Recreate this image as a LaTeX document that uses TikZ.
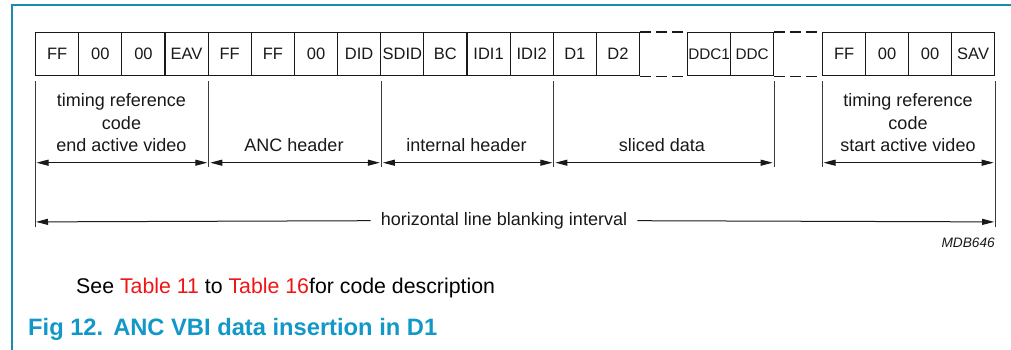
\documentclass[tikz,border=0pt]{standalone}
\usepackage{fontspec}
\setmainfont{Liberation Sans}
\usetikzlibrary{arrows.meta,calc}
\definecolor{framecol}{RGB}{25,140,175}
\definecolor{capcol}{RGB}{18,152,200}
\definecolor{ink}{RGB}{25,25,25}
\definecolor{reflink}{RGB}{240,20,20}
\begin{document}
\begin{tikzpicture}[x=1pt,y=-1pt,
  cell/.style={draw=ink, line width=1.2pt, minimum width=43.14pt, minimum height=43pt,
    inner sep=0pt, anchor=north west, font=\fontsize{16.5}{18}\selectfont, text=ink,
    text height=11.8pt, text depth=0pt},
  dashln/.style={draw=ink, line width=1.2pt, dash pattern=on 11pt off 5pt},
  ext/.style={draw=ink!85, line width=0.9pt},
  dim/.style={draw=ink, line width=1pt, {Triangle[length=12pt,width=6pt]}-{Triangle[length=12pt,width=6pt]}, shorten <=1.5pt, shorten >=1.5pt},
  dimone/.style={draw=ink, line width=1pt, -{Triangle[length=12pt,width=6pt]}, shorten >=1pt},
  lbl/.style={font=\fontsize{18}{22}\selectfont, text=ink, inner sep=0pt, anchor=base},
  frame/.style={draw=framecol, line width=1.5pt}
]
\useasboundingbox (0,0) rectangle (1011,350);
% frame
\draw[frame] (12,350) -- (12,5) -- (1011,5);
% cells
\foreach \i/\t in {1/FF,2/00,3/00,4/EAV,5/FF,6/FF,7/00,8/DID,9/SDID,10/BC,11/IDI1,12/IDI2,13/D1,14/D2}
  \node[cell] (c\i) at ({35+43.14*(\i-1)},32) {\t};
\node[cell, minimum width=43pt, font=\fontsize{15.3}{17}\selectfont] (c15) at (687,32) {DDC1};
\node[cell, minimum width=43pt, font=\fontsize{15.3}{17}\selectfont] (c16) at (730,32) {DDC};
\foreach \i/\t in {17/FF,18/00,19/00,20/SAV}
  \node[cell, minimum width=43pt] (c\i) at ({822+43*(\i-17)},32) {\t};
% dashed gaps
\draw[dashln] (c14.north east) -- (c15.north west);
\draw[dashln] (c14.south east) -- (c15.south west);
\draw[dashln] (c16.north east) -- (c17.north west);
\draw[dashln] (c16.south east) -- (c17.south west);
% extension lines and arrow coordinates
\foreach \k/\p/\e in {0/c1.south west/146, 1/c4.south east/86, 2/c8.south east/86,
    3/c12.south east/86, 4/c16.south east/86, 5/c17.south west/86, 6/c20.south east/146}{
  \draw[ext] ($(\p)+(0,5)$) -- ++(0,\e);
  \coordinate (a\k) at ($(\p)+(0,86.5)$);
  \coordinate (h\k) at ($(\p)+(0,145.7)$);
}
\draw[dim] (a0) -- (a1);
\draw[dim] (a1) -- (a2);
\draw[dim] (a2) -- (a3);
\draw[dim] (a3) -- (a4);
\draw[dim] (a5) -- (a6);
% labels
\node[lbl] (la1) at (121.5,106.5) {timing reference};
\node[lbl] (la2) at (121.5,129) {code};
\node[lbl] (la3) at (121.5,151.5) {end active video};
\node[lbl] (lb) at (294,151.5) {ANC header};
\node[lbl] (lc) at (466.5,151.5) {internal header};
\node[lbl] (ld) at (662,151.5) {sliced data};
\node[lbl] (lf1) at (908,106.5) {timing reference};
\node[lbl] (lf2) at (908,129) {code};
\node[lbl] (lf3) at (908,151.5) {start active video};
% horizontal blanking
\node[font=\fontsize{18}{22}\selectfont, text=ink, inner ysep=0pt, inner xsep=10pt] (hl) at (504,220.7) {horizontal line blanking interval};
\draw[dimone] (hl.west) -- (h0);
\draw[dimone] (hl.east) -- (h6);
% code
\node[anchor=base east, inner sep=0pt, font=\fontsize{13.7}{15}\selectfont\itshape, text=ink] (mdb) at (995,247) {MDB646};
% note
\node[anchor=base west, inner sep=0pt, font=\fontsize{21.3}{24}\selectfont, text=black] (note) at (76,293)
  {See \textcolor{reflink}{Table 11} to \textcolor{reflink}{Table 16}for code description};
% caption
\node[anchor=base west, inner sep=0pt, font=\fontsize{23.7}{28}\selectfont\bfseries, text=capcol] (cap) at (28,335.7)
  {Fig 12.\hspace{10pt}ANC VBI data insertion in D1};
\end{tikzpicture}
\end{document}
